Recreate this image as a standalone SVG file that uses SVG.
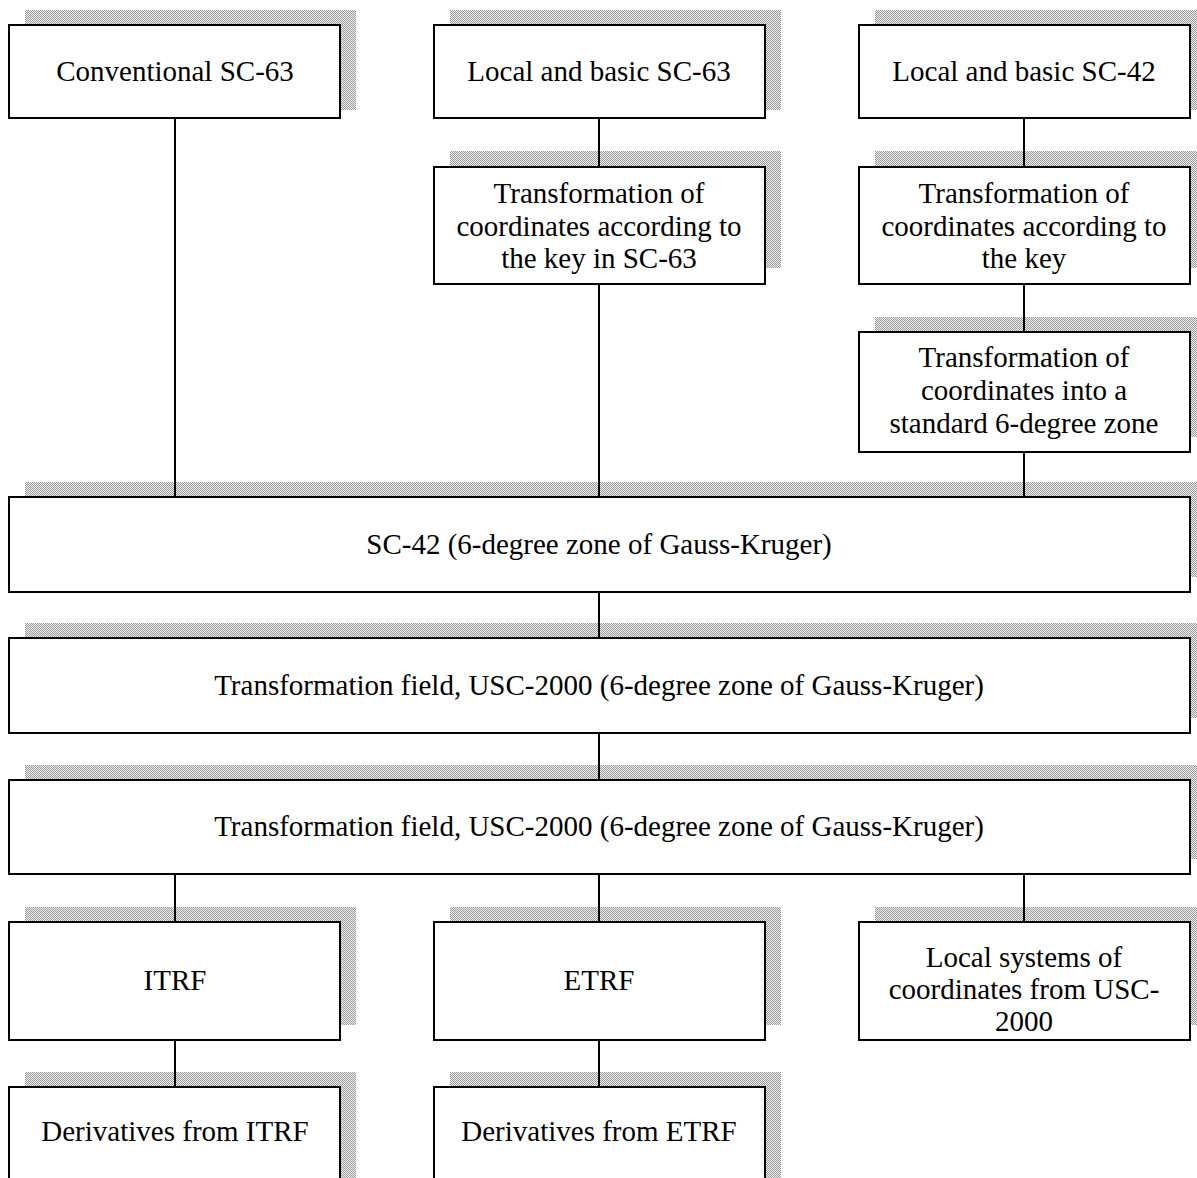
<svg xmlns="http://www.w3.org/2000/svg" width="1197" height="1178" viewBox="0 0 1197 1178">
<defs>
<pattern id="dither" width="2" height="2" patternUnits="userSpaceOnUse">
<rect width="2" height="2" fill="#eeeeee"/>
<rect width="1" height="1" fill="#9a9a9a"/>
<rect x="1" y="1" width="1" height="1" fill="#9a9a9a"/>
</pattern>
</defs>
<style>
.sh{fill:url(#dither);}
.bx{fill:#fff;stroke:#000;stroke-width:2;}
.t{font-family:"Liberation Serif","Times New Roman",serif;font-size:29px;fill:#000;text-anchor:middle;}
.ln{stroke:#000;stroke-width:2;fill:none;}
</style>
<rect width="1197" height="1178" fill="#fff"/>

<g id="shadows">
<rect class="sh" x="25" y="10" width="331" height="100"/>
<rect class="sh" x="450" y="10" width="331" height="100"/>
<rect class="sh" x="875" y="10" width="331" height="100"/>
<rect class="sh" x="450" y="151" width="331" height="117"/>
<rect class="sh" x="875" y="151" width="331" height="117"/>
<rect class="sh" x="875" y="317" width="331" height="120"/>
<rect class="sh" x="25" y="482" width="1181" height="95"/>
<rect class="sh" x="25" y="623" width="1181" height="95"/>
<rect class="sh" x="25" y="765" width="1181" height="94"/>
<rect class="sh" x="25" y="907" width="331" height="118"/>
<rect class="sh" x="450" y="907" width="331" height="118"/>
<rect class="sh" x="875" y="907" width="331" height="118"/>
<rect class="sh" x="25" y="1072" width="331" height="118"/>
<rect class="sh" x="450" y="1072" width="331" height="118"/>
</g>

<g id="connectors">
<line class="ln" x1="175" y1="118" x2="175" y2="497"/>
<line class="ln" x1="599" y1="118" x2="599" y2="167"/>
<line class="ln" x1="599" y1="284" x2="599" y2="497"/>
<line class="ln" x1="1024" y1="118" x2="1024" y2="167"/>
<line class="ln" x1="1024" y1="284" x2="1024" y2="332"/>
<line class="ln" x1="1024" y1="452" x2="1024" y2="497"/>
<line class="ln" x1="599" y1="592" x2="599" y2="638"/>
<line class="ln" x1="599" y1="733" x2="599" y2="780"/>
<line class="ln" x1="175" y1="874" x2="175" y2="922"/>
<line class="ln" x1="599" y1="874" x2="599" y2="922"/>
<line class="ln" x1="1024" y1="874" x2="1024" y2="922"/>
<line class="ln" x1="175" y1="1040" x2="175" y2="1087"/>
<line class="ln" x1="599" y1="1040" x2="599" y2="1087"/>
</g>

<g id="n-conv63"><rect class="bx" x="9" y="25" width="331" height="93"/><text class="t" x="175" y="81">Conventional SC-63</text></g>
<g id="n-local63"><rect class="bx" x="434" y="25" width="331" height="93"/><text class="t" x="599" y="81">Local and basic SC-63</text></g>
<g id="n-local42"><rect class="bx" x="859" y="25" width="331" height="93"/><text class="t" x="1024" y="81">Local and basic SC-42</text></g>

<g id="n-trans63"><rect class="bx" x="434" y="167" width="331" height="117"/>
<text class="t" x="599" y="203">Transformation of</text>
<text class="t" x="599" y="236">coordinates according to</text>
<text class="t" x="599" y="268">the key in SC-63</text></g>

<g id="n-transkey"><rect class="bx" x="859" y="167" width="331" height="117"/>
<text class="t" x="1024" y="203">Transformation of</text>
<text class="t" x="1024" y="236">coordinates according to</text>
<text class="t" x="1024" y="268">the key</text></g>

<g id="n-trans6"><rect class="bx" x="859" y="332" width="331" height="120"/>
<text class="t" x="1024" y="367">Transformation of</text>
<text class="t" x="1024" y="400">coordinates into a</text>
<text class="t" x="1024" y="433">standard 6-degree zone</text></g>

<g id="n-sc42"><rect class="bx" x="9" y="497" width="1181" height="95"/><text class="t" x="599" y="554">SC-42 (6-degree zone of Gauss-Kruger)</text></g>
<g id="n-field1"><rect class="bx" x="9" y="638" width="1181" height="95"/><text class="t" x="599" y="695">Transformation field, USC-2000 (6-degree zone of Gauss-Kruger)</text></g>
<g id="n-field2"><rect class="bx" x="9" y="780" width="1181" height="94"/><text class="t" x="599" y="836">Transformation field, USC-2000 (6-degree zone of Gauss-Kruger)</text></g>

<g id="n-itrf"><rect class="bx" x="9" y="922" width="331" height="118"/><text class="t" x="175" y="990">ITRF</text></g>
<g id="n-etrf"><rect class="bx" x="434" y="922" width="331" height="118"/><text class="t" x="599" y="990">ETRF</text></g>
<g id="n-localsys"><rect class="bx" x="859" y="922" width="331" height="118"/>
<text class="t" x="1024" y="967">Local systems of</text>
<text class="t" x="1024" y="999">coordinates from USC-</text>
<text class="t" x="1024" y="1031">2000</text></g>

<g id="n-deritrf"><rect class="bx" x="9" y="1087" width="331" height="118"/><text class="t" x="175" y="1141">Derivatives from ITRF</text></g>
<g id="n-deretrf"><rect class="bx" x="434" y="1087" width="331" height="118"/><text class="t" x="599" y="1141">Derivatives from ETRF</text></g>
</svg>
